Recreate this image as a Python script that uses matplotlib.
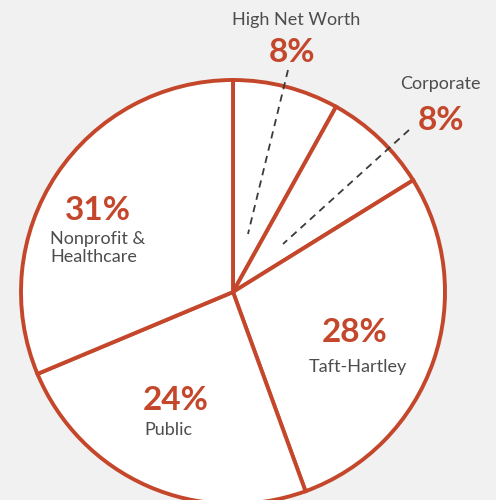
import matplotlib
matplotlib.use("Agg")
import matplotlib.pyplot as plt

# client mix, clockwise from 12 o'clock
segments = ["High Net Worth", "Corporate", "Taft-Hartley", "Public", "Nonprofit &\nHealthcare"]
shares = [8, 8, 28, 24, 31]

RED = "#c4472b"
GREY = "#4d4d4d"
BG = "#f1f1f1"

plt.rcParams['font.family'] = ['Lato', 'DejaVu Sans']

fig = plt.figure(figsize=(4.96, 5.0), dpi=100, facecolor=BG)
ax = fig.add_axes([0, 0, 1, 1])
ax.set_facecolor(BG)

cx, cy, r = 233, 208, 212
ax.pie(shares, startangle=90, counterclock=False, center=(cx, cy), radius=r,
       colors=['white'] * len(shares), frame=True,
       wedgeprops=dict(edgecolor=RED, linewidth=2.8))
ax.set_xlim(0, 496)
ax.set_ylim(0, 500)
ax.set_aspect('equal')
ax.axis('off')

def flip(y):
    return 500 - y

# labels placed inside the big slices
inside = {
    "Nonprofit &\nHealthcare": ((98, 210), (50, 248), 'left'),
    "Taft-Hartley": ((355, 333), (358, 367), 'center'),
    "Public": ((176, 400), (168, 430), 'center'),
}
for name, pct in zip(segments, shares):
    if name in inside:
        (px, py), (lx, ly), ha = inside[name]
        ax.text(px, flip(py), f"{pct}%", color=RED, fontsize=24, fontweight='bold',
                ha='center', va='center')
        ax.text(lx, flip(ly), name, color=GREY, fontsize=13, ha=ha, va='center',
                linespacing=1.1)

# small slices get callouts outside the pie
outside = {
    "High Net Worth": ((292, 52), (296, 20), (288, 70), (248, 234)),
    "Corporate": ((441, 120), (440, 84), (409, 130), (283, 244)),
}
for name, pct in zip(segments, shares):
    if name in outside:
        (px, py), (lx, ly), (x0, y0), (x1, y1) = outside[name]
        ax.text(px, flip(py), f"{pct}%", color=RED, fontsize=24, fontweight='bold',
                ha='center', va='center')
        ax.text(lx, flip(ly), name, color=GREY, fontsize=13, ha='center', va='center')
        ax.plot([x0, x1], [flip(y0), flip(y1)], color='#3a3a3a', lw=1.3,
                ls=(0, (4, 3)), zorder=5)

fig.savefig("out.png", dpi=100, facecolor=BG)
